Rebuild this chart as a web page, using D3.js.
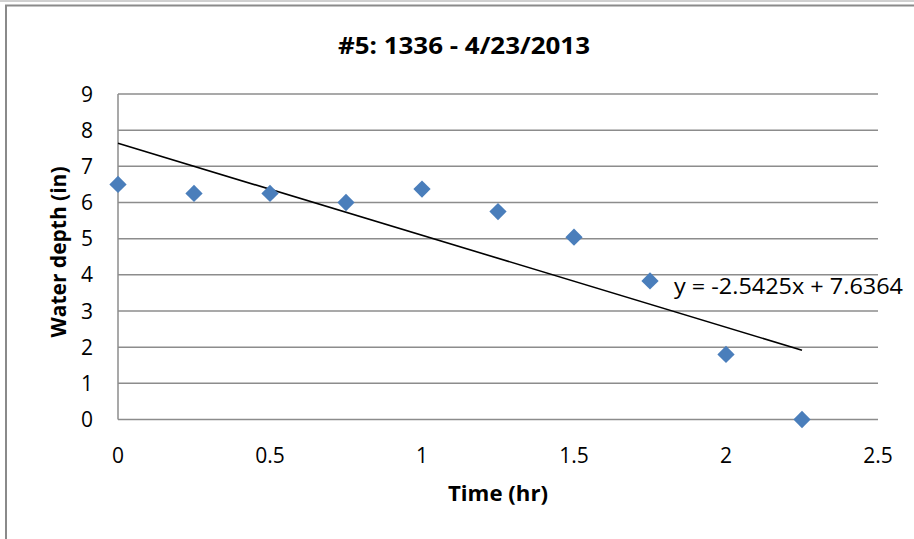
<!DOCTYPE html>
<html>
<head>
<meta charset="utf-8">
<script src="https://cdn.jsdelivr.net/npm/d3@7"></script>
<style>
  body { margin: 0; background: #fff; }
  svg { display: block; font-family: "Open Sans", "Liberation Sans", sans-serif; }
</style>
</head>
<body>
<svg id="chart" width="914" height="539"></svg>
<script>
// data
var times = [0, 0.25, 0.5, 0.75, 1, 1.25, 1.5, 1.75, 2, 2.25];
var depths = [6.5, 6.25, 6.25, 6.0, 6.37, 5.75, 5.04, 3.83, 1.8, 0];
var xTicks = [0, 0.5, 1, 1.5, 2, 2.5];
var yTicks = [0, 1, 2, 3, 4, 5, 6, 7, 8, 9];
var trend = { slope: -2.5425, intercept: 7.6364 };
var trendRange = [0, 2.25];

var svg = d3.select("#chart");
var gridColor = "#8c8c8c";

// outer chart frame (cut off at right/bottom like the screenshot)
svg.append("rect").attr("x", 0).attr("y", 0).attr("width", 914).attr("height", 2)
  .attr("fill", "#d0d0d0");
svg.append("path")
  .attr("d", "M6,539 V5.5 H914")
  .attr("fill", "none").attr("stroke", "#8a8a8a").attr("stroke-width", 2);

var x = d3.scaleLinear().domain([0, 2.5]).range([118, 878]);
var y = d3.scaleLinear().domain([0, 9]).range([419.5, 94]);

// horizontal gridlines
svg.append("g").selectAll("line").data(yTicks).enter().append("line")
  .attr("x1", x(0)).attr("x2", x(2.5))
  .attr("y1", function(d) { return y(d); })
  .attr("y2", function(d) { return y(d); })
  .attr("stroke", gridColor).attr("stroke-width", 1.5);

// left axis line
svg.append("line")
  .attr("x1", x(0)).attr("x2", x(0)).attr("y1", y(9)).attr("y2", y(0))
  .attr("stroke", gridColor).attr("stroke-width", 1.5);

// y tick labels
svg.append("g").selectAll("text").data(yTicks).enter().append("text")
  .attr("x", 93)
  .attr("y", function(d) { return y(d) + 7.5; })
  .attr("text-anchor", "end")
  .attr("font-size", 21)
  .attr("fill", "#000")
  .text(function(d) { return d; });

// x tick labels
svg.append("g").selectAll("text").data(xTicks).enter().append("text")
  .attr("x", function(d) { return x(d); })
  .attr("y", 463)
  .attr("text-anchor", "middle")
  .attr("font-size", 21)
  .attr("fill", "#000")
  .text(function(d) { return d; });

// trendline
svg.append("line")
  .attr("x1", x(trendRange[0]))
  .attr("y1", y(trend.slope * trendRange[0] + trend.intercept))
  .attr("x2", x(trendRange[1]))
  .attr("y2", y(trend.slope * trendRange[1] + trend.intercept))
  .attr("stroke", "#000").attr("stroke-width", 1.6);

// diamond markers
var diamond = d3.symbol().type(d3.symbolDiamond2).size(190);
svg.append("g").selectAll("path").data(times).enter().append("path")
  .attr("d", diamond)
  .attr("transform", function(d, i) {
    return "translate(" + x(d) + "," + y(depths[i]) + ")";
  })
  .attr("fill", "#4a7ebb");

// trendline equation
svg.append("text")
  .attr("x", 674).attr("y", 294)
  .attr("font-size", 21)
  .attr("textLength", 229).attr("lengthAdjust", "spacingAndGlyphs")
  .text("y = -2.5425x + 7.6364");

// title
svg.append("text")
  .attr("x", 464).attr("y", 54)
  .attr("text-anchor", "middle")
  .attr("font-size", 23).attr("font-weight", "bold")
  .attr("textLength", 252).attr("lengthAdjust", "spacingAndGlyphs")
  .text("#5: 1336 - 4/23/2013");

// axis titles
svg.append("text")
  .attr("x", 498).attr("y", 501)
  .attr("text-anchor", "middle")
  .attr("font-size", 21).attr("font-weight", "bold")
  .attr("textLength", 100).attr("lengthAdjust", "spacingAndGlyphs")
  .text("Time (hr)");

svg.append("text")
  .attr("transform", "translate(66,252) rotate(-90)")
  .attr("text-anchor", "middle")
  .attr("font-size", 21).attr("font-weight", "bold")
  .attr("textLength", 171).attr("lengthAdjust", "spacingAndGlyphs")
  .text("Water depth (in)");
</script>
</body>
</html>
